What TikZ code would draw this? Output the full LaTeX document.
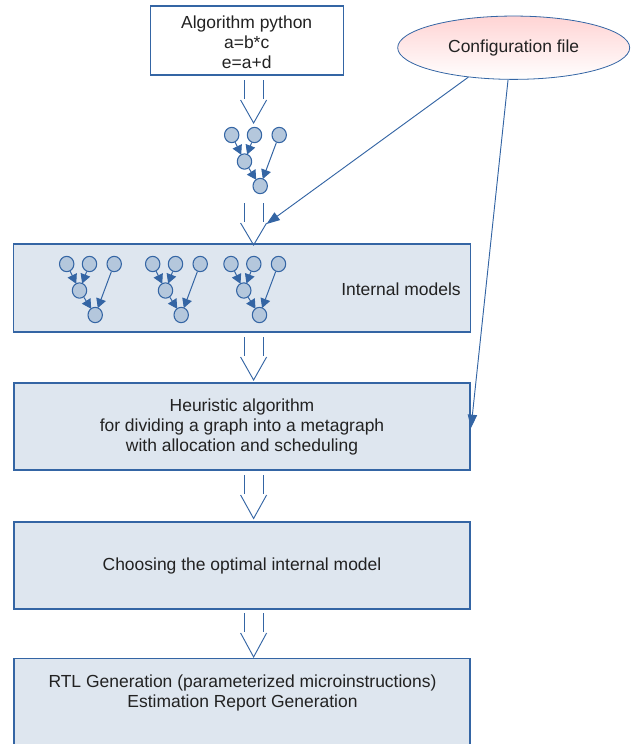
\documentclass[tikz,border=0pt]{standalone}
\usepackage{fontspec}
\setmainfont{Liberation Sans}
\usetikzlibrary{shapes.geometric,arrows.meta,calc}
\definecolor{bblue}{HTML}{3465A4}
\definecolor{boxfill}{HTML}{DEE6EF}
\definecolor{circfill}{HTML}{B4C7DC}
\definecolor{cfgline}{HTML}{5B84C4}
\definecolor{pinktop}{HTML}{FFD4D4}
\definecolor{txt}{HTML}{222222}
\tikzset{
  box/.style={draw=bblue, line width=0.8pt, fill=boxfill, inner sep=0pt},
  lbl/.style={text=txt, align=center, font=\fontsize{13.1}{15}\selectfont, inner sep=0pt},
  gnode/.style={ellipse, draw=bblue, line width=0.8pt, fill=circfill, minimum width=10.8pt, minimum height=11.5pt, inner sep=0pt},
  garrow/.style={draw=bblue, line width=0.75pt, -{Triangle[length=7pt,width=7.5pt]}, shorten >=-0.5pt},
  hol/.style={draw=bblue, line width=0.7pt},
  cfgarrow/.style={draw=cfgline, line width=0.7pt, -{Triangle[length=10pt,width=7pt]}, bblue}
}
\newcommand{\smallgraph}[3]{%
  \node[gnode] (#1a) at (#2,#3) {};
  \node[gnode] (#1b) at (#2+22.8,#3) {};
  \node[gnode] (#1c) at (#2+47.5,#3) {};
  \node[gnode] (#1m) at (#2+12.8,#3+26.5) {};
  \node[gnode] (#1z) at (#2+28.5,#3+51) {};
  \draw[garrow] (#1a) -- (#1m);
  \draw[garrow] (#1b) -- (#1m);
  \draw[garrow] (#1m) -- (#1z);
  \draw[garrow] (#1c) -- (#1z);
}
\newcommand{\hollowarrow}[3]{%
  \draw[hol] (#1-9.5,#2) -- (#1-9.5,#2+19);
  \draw[hol] (#1+9.5,#2) -- (#1+9.5,#2+19);
  \draw[hol] (#1-13,#2+20) -- (#1,#3) -- (#1+13,#2+20);
}
\begin{document}
\begin{tikzpicture}[x=0.75pt,y=-0.75pt]
\useasboundingbox (0,0) rectangle (635,744);
% boxes
\node[box, fill=white, minimum width=144.75pt, minimum height=51.75pt] (algo) at (246.7,40.5) {};
\node[lbl] (algotxt) at (246.7,42) {Algorithm python\\a=b*c\\e=a+d};
\node[box, minimum width=342.5pt, minimum height=66pt] (models) at (241.7,288) {};
\node[lbl] (modtxt) at (401,289) {Internal models};
\node[box, minimum width=342pt, minimum height=65.25pt] (heur) at (242,426.5) {};
\node[lbl] (heurtxt) at (242,426.5) {Heuristic algorithm\\for dividing a graph into a metagraph\\with allocation and scheduling};
\node[box, minimum width=342pt, minimum height=65.25pt] (choose) at (242,565.5) {};
\node[lbl] (choosetxt) at (242,565.5) {Choosing the optimal internal model};
\node[box, minimum width=342pt, minimum height=90pt] (rtl) at (242,718.3) {};
\node[lbl] (rtltxt) at (242.5,692.5) {RTL Generation (parameterized microinstructions)\\Estimation Report Generation};
% config ellipse
\node[ellipse, draw=bblue, line width=0.6pt, top color=pinktop, bottom color=white, minimum width=174pt, minimum height=47.5pt, inner sep=0pt] (cfg) at (513.7,47.7) {};
\node[lbl] (cfgtxt) at (513.7,47.7) {Configuration file};
% graphs
\smallgraph{t}{231.7}{135}
\smallgraph{ga}{66.7}{264}
\smallgraph{gb}{152.7}{264}
\smallgraph{gc}{231}{264}
% hollow arrows
\hollowarrow{253.6}{80}{123}
\hollowarrow{253.6}{203}{245}
\hollowarrow{253.6}{337}{380}
\hollowarrow{253.6}{475}{518.5}
\hollowarrow{253.6}{613}{657}
% config connectors
\coordinate (h2r) at (266.5,224);
\coordinate (heurin) at (471,428);
\draw[cfgarrow] (cfg.213) -- (h2r);
\draw[cfgarrow] (cfg.260) -- (heurin);
\end{tikzpicture}
\end{document}
